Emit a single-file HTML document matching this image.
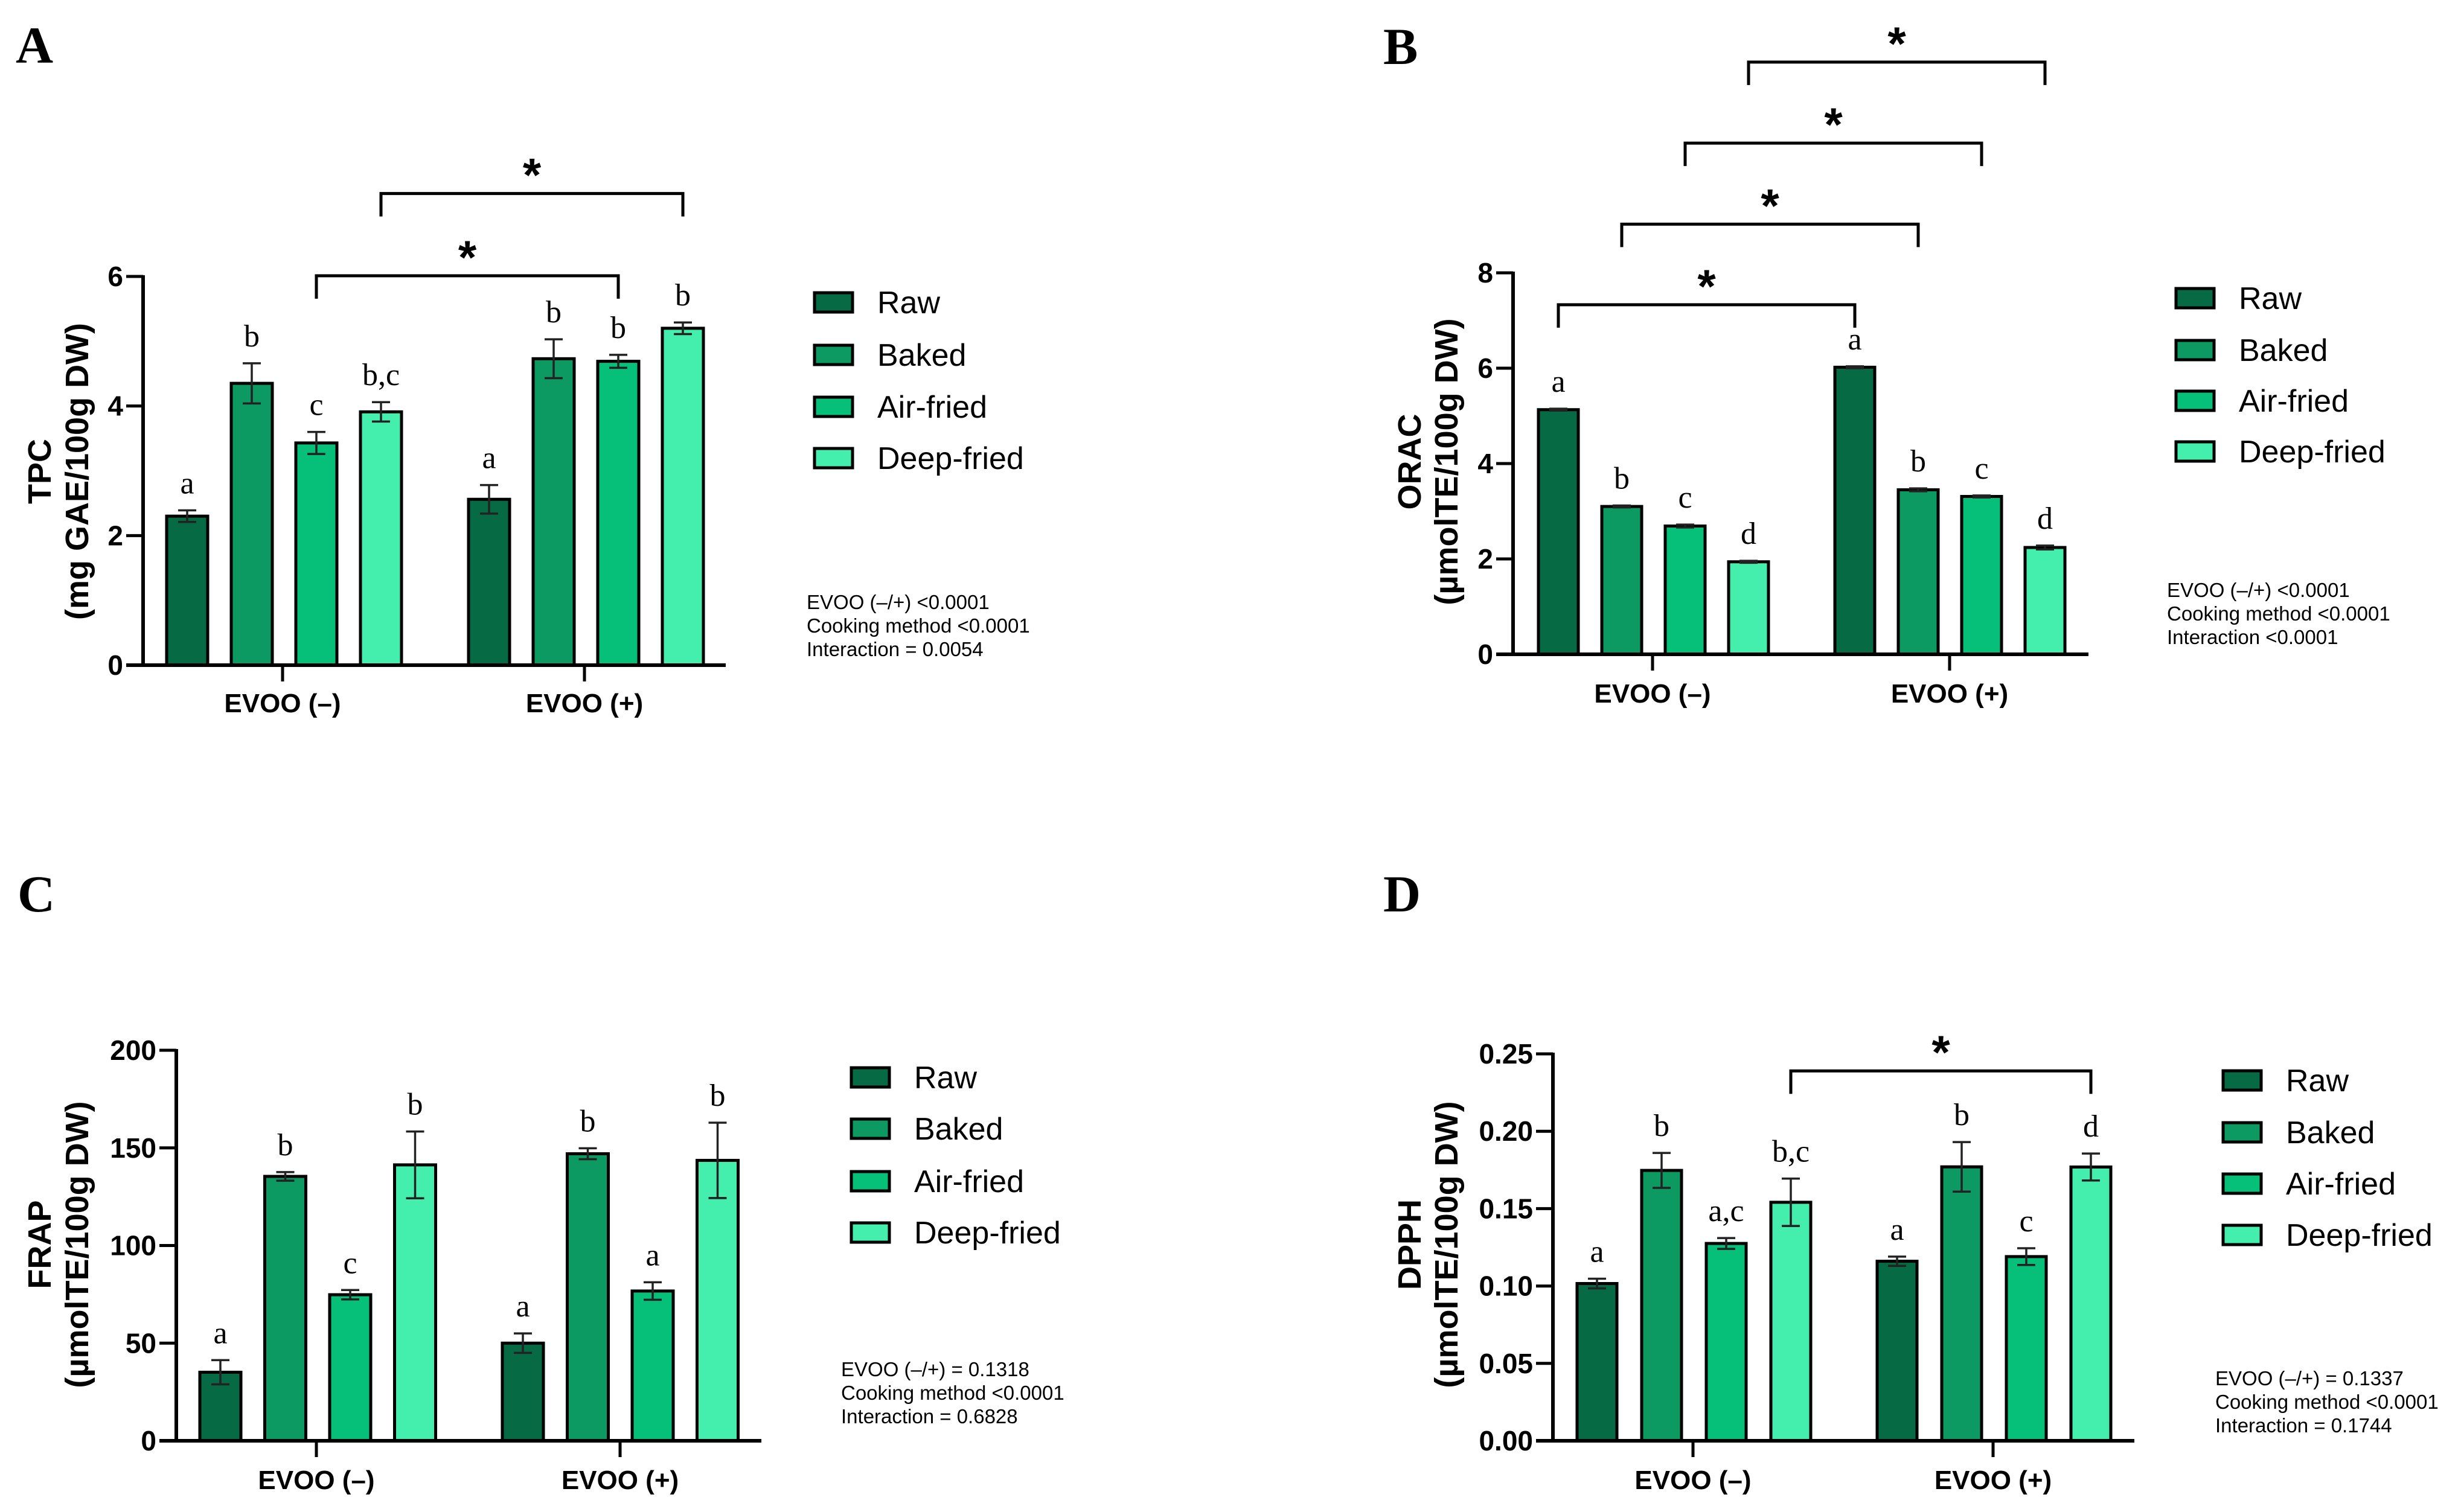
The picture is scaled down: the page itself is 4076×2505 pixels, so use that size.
<!DOCTYPE html>
<html><head><meta charset="utf-8"><style>
html,body{margin:0;padding:0;background:#fff;}
svg{display:block;}
</style></head><body>
<svg id="fig" xmlns="http://www.w3.org/2000/svg" width="4076" height="2505" viewBox="0 0 4076 2505"></svg>
<script>
// ---- data ----
const groups = ["EVOO (–)", "EVOO (+)"];
const methods = ["Raw", "Baked", "Air-fried", "Deep-fried"];
const colors = ["#066b44", "#0d9962", "#06c07a", "#44efae"];

const tpcMeans = [[2.30, 4.35, 3.43, 3.91], [2.56, 4.73, 4.69, 5.20]];
const tpcErr = [[0.09, 0.31, 0.17, 0.15], [0.22, 0.30, 0.10, 0.09]];
const tpcLetters = [["a", "b", "c", "b,c"], ["a", "b", "b", "b"]];
const tpcTicks = [0, 2, 4, 6];
const tpcStats = ["EVOO (–/+) <0.0001", "Cooking method <0.0001", "Interaction = 0.0054"];
const tpcBrackets = [[0, 2, 1, 2, 6.01], [0, 3, 1, 3, 7.28]];

const oracMeans = [[5.13, 3.10, 2.69, 1.94], [6.02, 3.45, 3.31, 2.24]];
const oracErr = [[0.02, 0.02, 0.03, 0.02], [0.02, 0.03, 0.02, 0.04]];
const oracLetters = [["a", "b", "c", "d"], ["a", "b", "c", "d"]];
const oracTicks = [0, 2, 4, 6, 8];
const oracStats = ["EVOO (–/+) <0.0001", "Cooking method <0.0001", "Interaction <0.0001"];
const oracBrackets = [[0, 0, 1, 0, 7.33], [0, 1, 1, 1, 9.02], [0, 2, 1, 2, 10.72], [0, 3, 1, 3, 12.42]];

const frapMeans = [[35.1, 135.4, 74.8, 141.3], [50.0, 147.0, 76.7, 143.6]];
const frapErr = [[6.2, 2.2, 2.4, 17.1], [5.0, 2.8, 4.5, 19.3]];
const frapLetters = [["a", "b", "c", "b"], ["a", "b", "a", "b"]];
const frapTicks = [0, 50, 100, 150, 200];
const frapStats = ["EVOO (–/+) = 0.1318", "Cooking method <0.0001", "Interaction = 0.6828"];
const frapBrackets = [];

const dpphMeans = [[0.1016, 0.1747, 0.1275, 0.1541], [0.1160, 0.1770, 0.1190, 0.1769]];
const dpphErr = [[0.0031, 0.0113, 0.0035, 0.0153], [0.0030, 0.0160, 0.0054, 0.0087]];
const dpphLetters = [["a", "b", "a,c", "b,c"], ["a", "b", "c", "d"]];
const dpphTicks = [0, 0.05, 0.10, 0.15, 0.20, 0.25];
const dpphStats = ["EVOO (–/+) = 0.1337", "Cooking method <0.0001", "Interaction = 0.1744"];
const dpphBrackets = [[0, 3, 1, 3, 0.239]];

// ---- layout ----
const panels = [
 {id:"tpc", letter:"A", lx:26, ly:104, means:tpcMeans, err:tpcErr, letters:tpcLetters, ticks:tpcTicks, dec:0, stats:tpcStats, brackets:tpcBrackets,
  ax:237, y0:1102, yTop:458, max:6, starts:[276,776], step:107, bw:68, xEnd:1202, gt:[468,968], xlY:1180,
  yl1:"TPC", yl2:"(mg GAE/100g DW)", ylx1:65, ylx2:127, ylc:781, legX:1349, legY:[501,588,674,759], statX:1336, statY:997},
 {id:"orac", letter:"B", lx:2291, ly:106, means:oracMeans, err:oracErr, letters:oracLetters, ticks:oracTicks, dec:0, stats:oracStats, brackets:oracBrackets,
  ax:2506, y0:1084, yTop:452, max:8, starts:[2548,3039], step:105, bw:66, xEnd:3459, gt:[2737,3229], xlY:1164,
  yl1:"ORAC", yl2:"(µmolTE/100g DW)", ylx1:2334, ylx2:2395, ylc:765, legX:3604, legY:[494,580,664,748], statX:3589, statY:977},
 {id:"frap", letter:"C", lx:29, ly:1510, means:frapMeans, err:frapErr, letters:frapLetters, ticks:frapTicks, dec:0, stats:frapStats, brackets:frapBrackets,
  ax:292, y0:2387, yTop:1740, max:200, starts:[331,832], step:107.5, bw:68, xEnd:1261, gt:[524,1027], xlY:2467,
  yl1:"FRAP", yl2:"(µmolTE/100g DW)", ylx1:65, ylx2:127, ylc:2062, legX:1410, legY:[1785,1870,1957,2042], statX:1393, statY:2268},
 {id:"dpph", letter:"D", lx:2291, ly:1510, means:dpphMeans, err:dpphErr, letters:dpphLetters, ticks:dpphTicks, dec:2, stats:dpphStats, brackets:dpphBrackets,
  ax:2572, y0:2387, yTop:1746, max:0.25, starts:[2612,3109], step:107, bw:66, xEnd:3535, gt:[2804,3301], xlY:2467,
  yl1:"DPPH", yl2:"(µmolTE/100g DW)", ylx1:2334, ylx2:2395, ylc:2062, legX:3682, legY:[1790,1876,1961,2046], statX:3669, statY:2283}
];

const NS = "http://www.w3.org/2000/svg";
const svg = document.getElementById("fig");
function mk(tag, attrs, parent, text){
  const e = document.createElementNS(NS, tag);
  for (const k in attrs) e.setAttribute(k, attrs[k]);
  if (text !== undefined) e.textContent = text;
  (parent || svg).appendChild(e);
  return e;
}
const SANS = '"Liberation Sans", Arial, sans-serif';
const NARROW = '"Liberation Sans Narrow", "Liberation Sans", Arial, sans-serif';
const SERIF = '"Liberation Serif", "Times New Roman", serif';

panels.forEach(p => {
  const g = mk("g", {});
  
  
  const yS = v => p.y0 - (v / p.max) * (p.y0 - p.yTop);
  const xS = (gi, mi) => p.starts[gi] + mi * p.step;

  const pl = mk("text", {x:p.lx, y:p.ly, "font-family":SERIF, "font-weight":"bold", "font-size":86, fill:"#000"}, g, p.letter);
  
  

  p.means.forEach((row, gi) => row.forEach((v, mi) => {
    const x = xS(gi, mi), y = yS(v);
    const r = mk("rect", {x:x, y:y, width:p.bw, height:p.y0 - y, fill:colors[mi], stroke:"#000", "stroke-width":5}, g);
    
    
    const e = p.err[gi][mi];
    const cx = x + p.bw / 2, yt = yS(v + e), yb = yS(v - e);
    const eb = mk("path", {d:`M${cx},${yb}V${yt}M${cx-15},${yt}H${cx+15}M${cx-15},${yb}H${cx+15}`, stroke:"#222", "stroke-width":3.5, fill:"none"}, g);
    
    
    const lt = mk("text", {x:cx, y:yt - 28, "text-anchor":"middle", "font-family":SERIF, "font-size":52, fill:"#000"}, g, p.letters[gi][mi]);
    
    
  }));

  const ya = mk("line", {x1:p.ax, y1:p.yTop - 2, x2:p.ax, y2:p.y0 + 3, stroke:"#000", "stroke-width":6}, g);
  
  
  const xa = mk("line", {x1:p.ax - 28, y1:p.y0, x2:p.xEnd, y2:p.y0, stroke:"#000", "stroke-width":6}, g);
  
  
  p.ticks.forEach(t => {
    const y = yS(t);
    mk("line", {x1:p.ax - 28, y1:y, x2:p.ax, y2:y, stroke:"#000", "stroke-width":5}, g);
    const tl = mk("text", {x:p.ax - 33, y:y + 16, "text-anchor":"end", "font-family":NARROW, "font-weight":"bold", "font-size":46, fill:"#000"}, g, t.toFixed(p.dec));
    
    
  });
  groups.forEach((name, gi) => {
    const x = p.gt[gi];
    mk("line", {x1:x, y1:p.y0, x2:x, y2:p.y0 + 27, stroke:"#000", "stroke-width":5}, g);
    const gl = mk("text", {x:x, y:p.xlY, "text-anchor":"middle", "font-family":SANS, "font-weight":"bold", "font-size":44, fill:"#000"}, g, name);
    
    
  });

  const yt1 = mk("text", {x:0, y:0, transform:`translate(${p.ylx1 + 19},${p.ylc}) rotate(-90)`, "text-anchor":"middle", "font-family":SANS, "font-weight":"bold", "font-size":54, fill:"#000"}, g, p.yl1);
  
  
  const yt2 = mk("text", {x:0, y:0, transform:`translate(${p.ylx2 + 19},${p.ylc}) rotate(-90)`, "text-anchor":"middle", "font-family":SANS, "font-weight":"bold", "font-size":54, fill:"#000"}, g, p.yl2);
  
  

  p.brackets.forEach(b => {
    const x1 = xS(b[0], b[1]) + p.bw / 2, x2 = xS(b[2], b[3]) + p.bw / 2, y = yS(b[4]);
    const br = mk("path", {d:`M${x1},${y + 38}V${y}H${x2}V${y + 38}`, stroke:"#000", "stroke-width":5, fill:"none"}, g);
    
    
    const st = mk("text", {x:(x1 + x2) / 2, y:y - 4, "text-anchor":"middle", "font-family":SANS, "font-weight":"bold", "font-size":78, fill:"#000"}, g, "*");
    
    
  });

  methods.forEach((m, mi) => {
    const cy = p.legY[mi];
    const lb = mk("rect", {x:p.legX, y:cy - 16, width:63, height:32, fill:colors[mi], stroke:"#000", "stroke-width":5}, g);
    
    
    const lt = mk("text", {x:p.legX + 104, y:cy + 18, "font-family":NARROW, "font-size":52, fill:"#000"}, g, m);
    
    
  });

  p.stats.forEach((s, i) => {
    const tx = mk("text", {x:p.statX, y:p.statY + 12 + i * 39, "font-family":NARROW, "font-size":33, fill:"#000"}, g, s);
    
    
  });
});
</script>
</body></html>
